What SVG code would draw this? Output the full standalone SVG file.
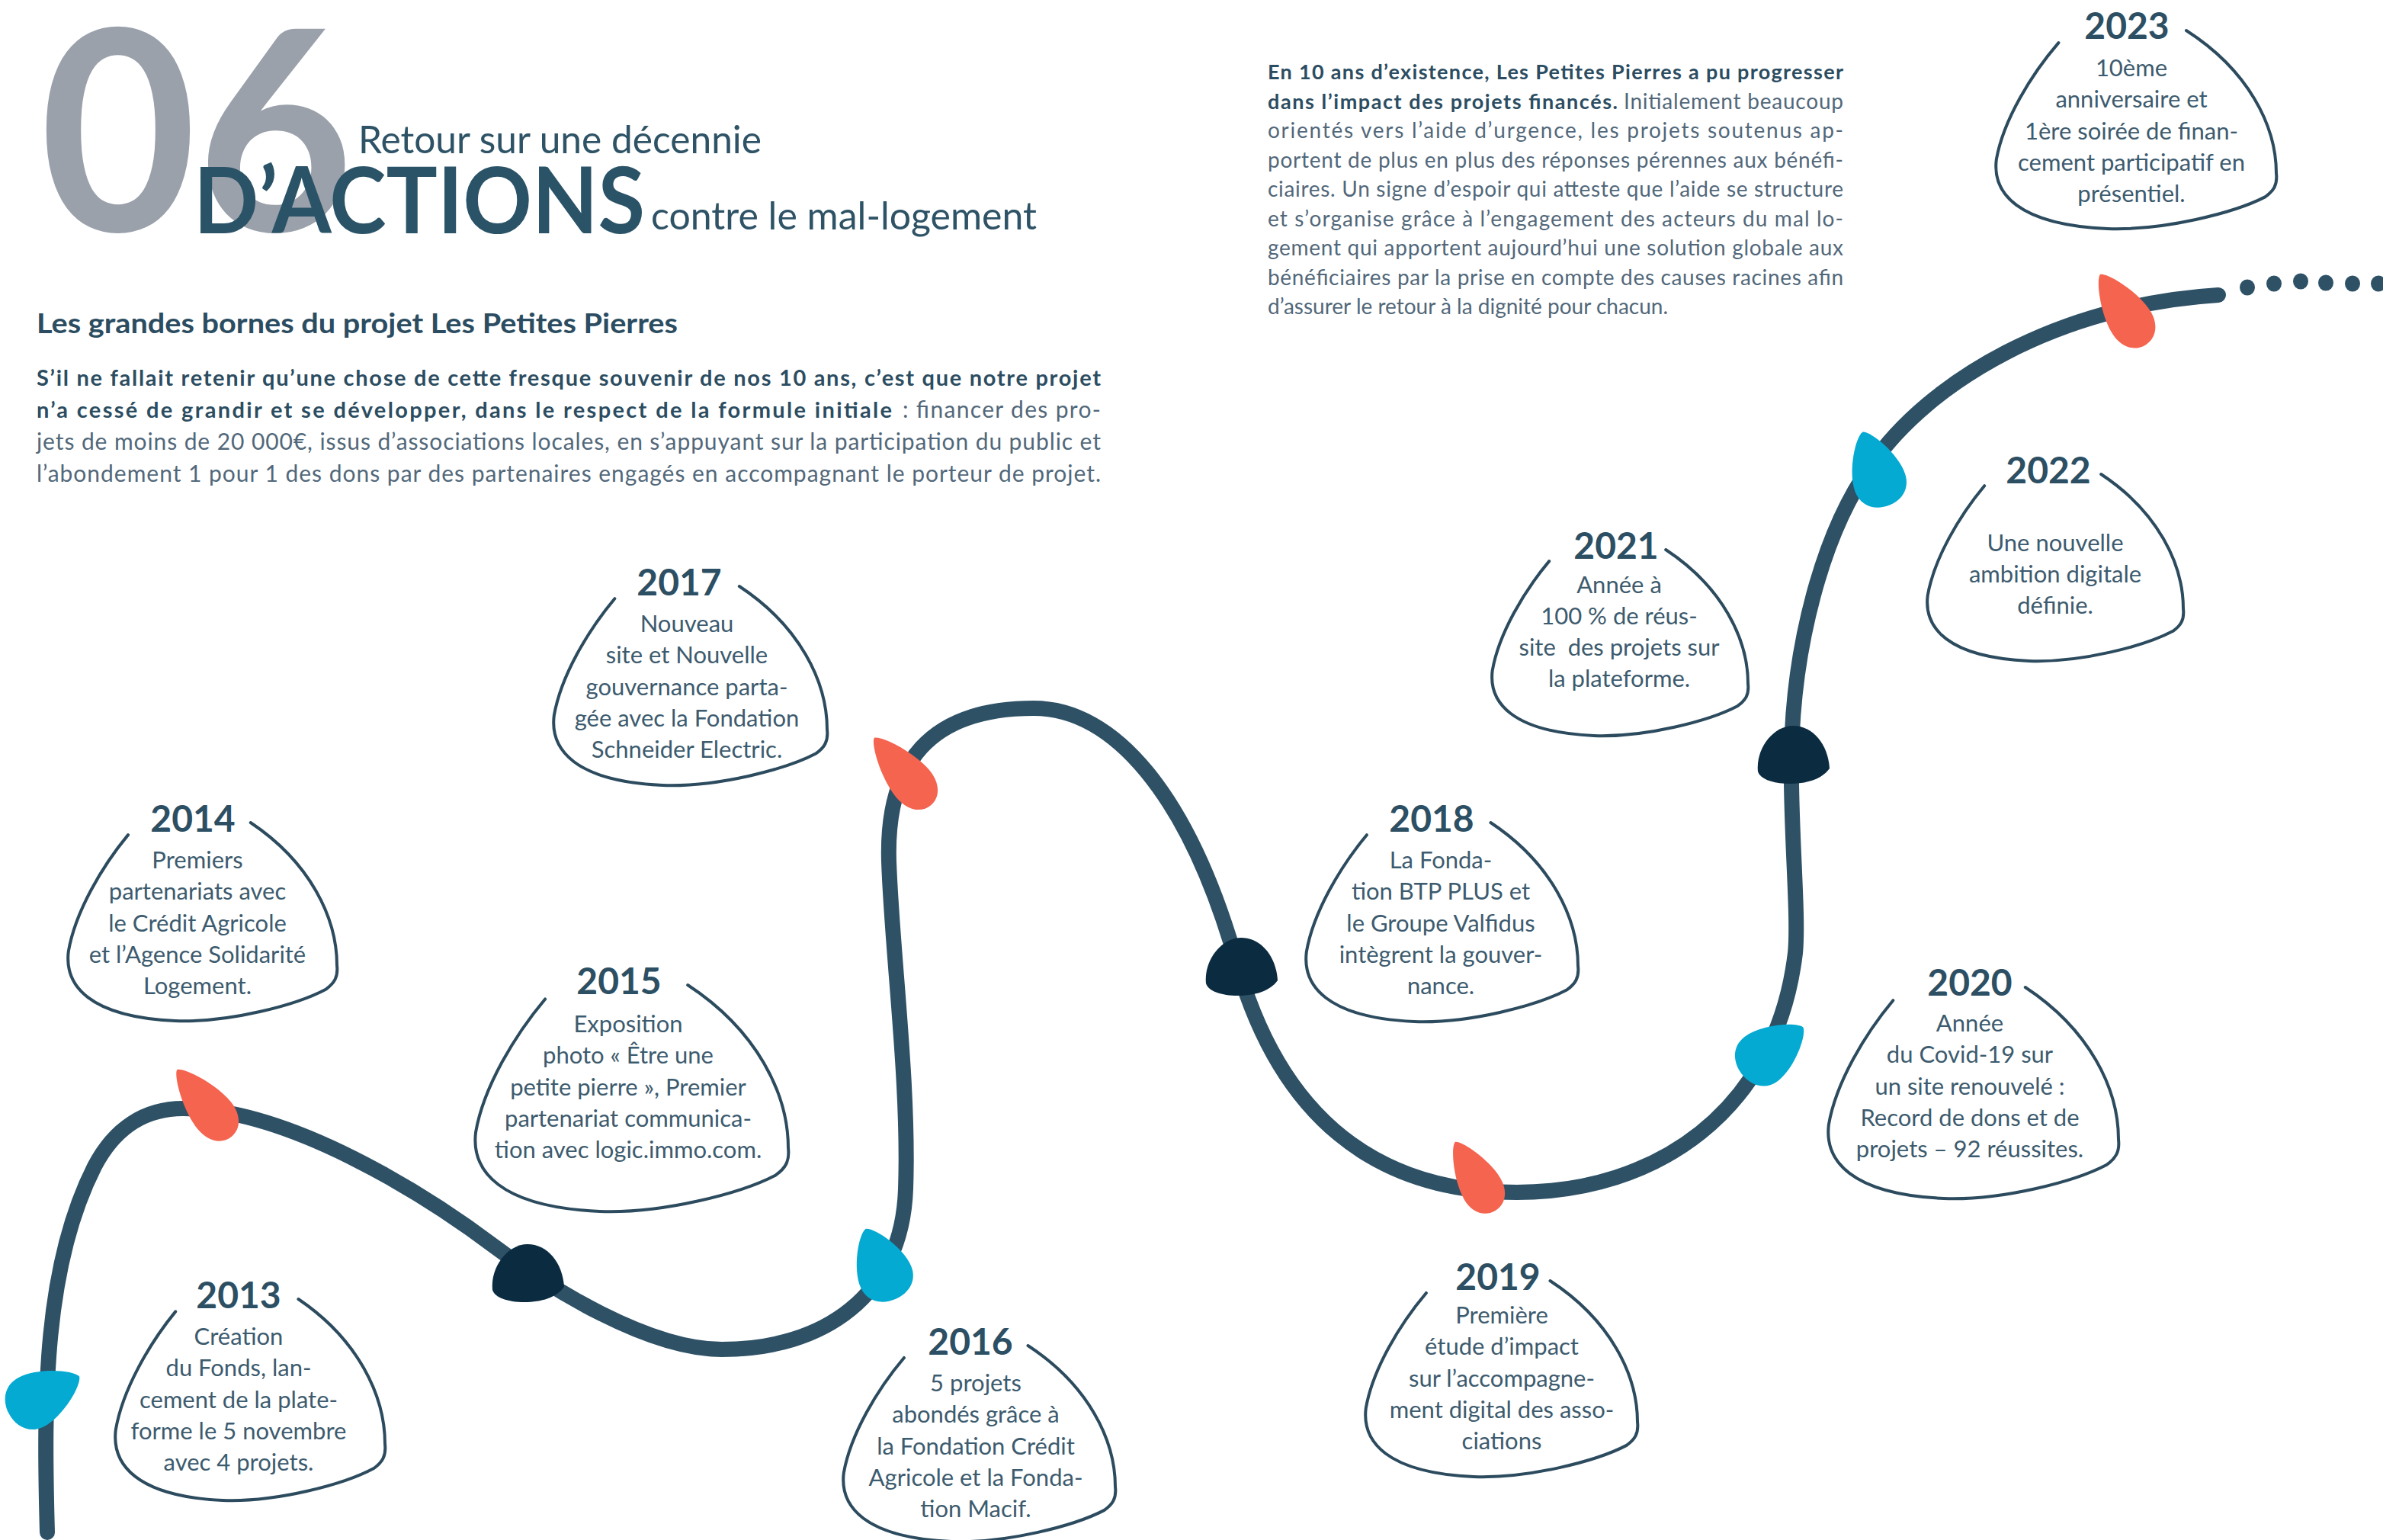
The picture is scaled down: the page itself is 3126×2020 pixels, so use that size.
<svg xmlns="http://www.w3.org/2000/svg" xmlns:xlink="http://www.w3.org/1999/xlink" width="3126" height="2020" viewBox="0 0 3126 2020">
<style>
.yr{font-family:Lato,'Open Sans','Liberation Sans',sans-serif;font-weight:700;font-size:48px;fill:#2c4f63;text-anchor:middle}
.bt{font-family:Lato,'Open Sans','Liberation Sans',sans-serif;font-size:31px;fill:#3d5b6e;text-anchor:middle}
.bub{fill:none;stroke:#2c4b5e;stroke-width:4;stroke-linecap:round;stroke-linejoin:round;vector-effect:non-scaling-stroke}
.road{fill:none;stroke:#2e5166;stroke-width:20;stroke-linecap:round;stroke-linejoin:round}
.red{fill:#f4644f}.blue{fill:#05aad2}.dark{fill:#0b2b40}.dot{fill:#2e5166}
.hb{font-family:Lato,'Open Sans','Liberation Sans',sans-serif;font-weight:700;fill:#2c4d61}
.hr{font-family:Lato,'Open Sans','Liberation Sans',sans-serif;fill:#52687a}
</style>
<defs>
<path id="bub" class="bub" d="M 22.6 6.2 C 13 22, 3 45, 0.5 65 C -1 82, 8 98, 40 100 C 60 101, 85 92, 96 84 C 99 81, 100.5 78, 100 72 C 100 48, 90 20, 68 0"/>
<path id="drop" d="M 0 -55 C 9 -52, 29 -10, 29 20 C 29 42, 16 55, 0 55 C -16 55, -29 42, -29 20 C -29 -10, -9 -52, 0 -55 Z"/>
<path id="dome" d="M -46 22 C -49 -8, -26 -38, 0 -38 C 26 -38, 46 -14, 48 18 C 38 32, 18 38, -4 38 C -26 38, -43 32, -46 22 Z"/>
</defs>
<rect width="3126" height="2020" fill="#ffffff"/>

<g id="title">
<text x="52" y="303" font-family="Lato,'Open Sans',sans-serif" font-weight="700" font-size="367" fill="#9aa1ab" textLength="412" lengthAdjust="spacingAndGlyphs">06</text>
<text x="470" y="201" font-family="Lato,'Open Sans',sans-serif" font-size="50" fill="#2e5366" textLength="529" lengthAdjust="spacingAndGlyphs">Retour sur une décennie</text>
<text x="254" y="306" font-family="Lato,'Open Sans',sans-serif" font-weight="700" font-size="120" fill="#2b5367" textLength="592" lengthAdjust="spacingAndGlyphs">D’ACTIONS</text>
<text x="854" y="301" font-family="Lato,'Open Sans',sans-serif" font-size="50" fill="#2e5366" textLength="506" lengthAdjust="spacingAndGlyphs">contre le mal-logement</text>
</g>

<g id="intro">
<text class="hb" x="48" y="437" font-size="36" textLength="841" lengthAdjust="spacingAndGlyphs">Les grandes bornes du projet Les Petites Pierres</text>
<text class="hb" x="48" y="506" font-size="29" textLength="1396" lengthAdjust="spacing">S’il ne fallait retenir qu’une chose de cette fresque souvenir de nos 10 ans, c’est que notre projet</text>
<text class="hb" x="48" y="548" font-size="29" textLength="1122" lengthAdjust="spacing">n’a cessé de grandir et se développer, dans le respect de la formule initiale</text>
<text class="hr" x="1184" y="548" font-size="30" textLength="260" lengthAdjust="spacing">: financer des pro-</text>
<text class="hr" x="48" y="590" font-size="30" textLength="1396" lengthAdjust="spacing">jets de moins de 20 000€, issus d’associations locales, en s’appuyant sur la participation du public et</text>
<text class="hr" x="48" y="632" font-size="30" textLength="1396" lengthAdjust="spacing">l’abondement 1 pour 1 des dons par des partenaires engagés en accompagnant le porteur de projet.</text>
</g>

<g id="summary">
<text class="hb" x="1663" y="104" font-size="27" textLength="755" lengthAdjust="spacing">En 10 ans d’existence, Les Petites Pierres a pu progresser</text>
<text class="hb" x="1663" y="142.5" font-size="27" textLength="459" lengthAdjust="spacing">dans l’impact des projets financés.</text>
<text class="hr" x="2130" y="142.5" font-size="28" textLength="288" lengthAdjust="spacing">Initialement beaucoup</text>
<text class="hr" x="1663" y="181" font-size="28" textLength="755" lengthAdjust="spacing">orientés vers l’aide d’urgence, les projets soutenus ap-</text>
<text class="hr" x="1663" y="219.5" font-size="28" textLength="755" lengthAdjust="spacing">portent de plus en plus des réponses pérennes aux bénéfi-</text>
<text class="hr" x="1663" y="258" font-size="28" textLength="755" lengthAdjust="spacing">ciaires. Un signe d’espoir qui atteste que l’aide se structure</text>
<text class="hr" x="1663" y="296.5" font-size="28" textLength="755" lengthAdjust="spacing">et s’organise grâce à l’engagement des acteurs du mal lo-</text>
<text class="hr" x="1663" y="335" font-size="28" textLength="755" lengthAdjust="spacing">gement qui apportent aujourd’hui une solution globale aux</text>
<text class="hr" x="1663" y="373.5" font-size="28" textLength="755" lengthAdjust="spacing">bénéficiaires par la prise en compte des causes racines afin</text>
<text class="hr" x="1663" y="412" font-size="28">d’assurer le retour à la dignité pour chacun.</text>
</g>

<g id="timeline">
<path class="road" d="M 62 2010 C 57 1830, 58 1660, 124 1530 C 150 1480, 190 1454, 240 1454 C 380 1454, 560 1568, 650 1636 C 720 1689, 850 1770, 947 1770 C 1080 1770, 1183 1700, 1188 1560 C 1193 1420, 1170 1250, 1166 1130 C 1162 1000, 1220 929, 1356 929 C 1460 929, 1560 1040, 1624 1269 C 1680 1460, 1800 1564, 1990 1564 C 2170 1564, 2330 1460, 2355 1250 C 2360 1200, 2348 1080, 2350 990 C 2352 850, 2390 700, 2454 611 C 2530 500, 2700 400, 2910 387"/>
<ellipse class="dot" cx="2948" cy="377" rx="10" ry="10.5"/>
<ellipse class="dot" cx="2983" cy="372" rx="10" ry="10.5"/>
<ellipse class="dot" cx="3018" cy="369" rx="10" ry="10.5"/>
<ellipse class="dot" cx="3051" cy="371" rx="10" ry="10.5"/>
<ellipse class="dot" cx="3086" cy="372" rx="10" ry="10.5"/>
<ellipse class="dot" cx="3120" cy="372" rx="10" ry="10.5"/>
<use href="#drop" class="blue" transform="translate(58,1830) rotate(62) scale(1.25,0.95)"/>
<use href="#drop" class="red" transform="translate(268,1447) rotate(-39) scale(0.97,1.03)"/>
<use href="#dome" class="dark" transform="translate(692,1670)"/>
<use href="#drop" class="blue" transform="translate(1155,1658) rotate(-23) scale(1.24,0.91)"/>
<use href="#drop" class="red" transform="translate(1184,1012) rotate(-40) scale(0.97,1.05)"/>
<use href="#dome" class="dark" transform="translate(1628,1268)"/>
<use href="#drop" class="red" transform="translate(1935,1543) rotate(-30) scale(0.95,0.95)"/>
<use href="#drop" class="blue" transform="translate(2325,1378) rotate(53) scale(1.25,0.92)"/>
<use href="#dome" class="dark" transform="translate(2352,990)"/>
<use href="#drop" class="blue" transform="translate(2460,615) rotate(-19) scale(1.2,0.93)"/>
<use href="#drop" class="red" transform="translate(2785,406) rotate(-33)"/>
</g>

<g id="y2013">
<use href="#bub" transform="translate(150,1704) scale(3.55,2.64)"/>
<text class="yr" x="313" y="1716">2013</text>
<text class="bt"><tspan x="313" y="1764">Création</tspan><tspan x="313" y="1805">du Fonds, lan-</tspan><tspan x="313" y="1846.5">cement de la plate-</tspan><tspan x="313" y="1888">forme le 5 novembre</tspan><tspan x="313" y="1929">avec 4 projets.</tspan></text>
</g>

<g id="y2014">
<use href="#bub" transform="translate(88,1079) scale(3.54,2.60)"/>
<text class="yr" x="253" y="1091">2014</text>
<text class="bt"><tspan x="259" y="1139">Premiers</tspan><tspan x="259" y="1180">partenariats avec</tspan><tspan x="259" y="1221.5">le Crédit Agricole</tspan><tspan x="259" y="1263">et l’Agence Solidarité</tspan><tspan x="259" y="1304">Logement.</tspan></text>
</g>

<g id="y2015">
<use href="#bub" transform="translate(622,1292) scale(4.12,2.97)"/>
<text class="yr" x="812" y="1304">2015</text>
<text class="bt"><tspan x="824" y="1354">Exposition</tspan><tspan x="824" y="1395">photo « Être une</tspan><tspan x="824" y="1436.5">petite pierre », Premier</tspan><tspan x="824" y="1478">partenariat communica-</tspan><tspan x="824" y="1519">tion avec logic.immo.com.</tspan></text>
</g>

<g id="y2016">
<use href="#bub" transform="translate(1105,1765) scale(3.58,2.57)"/>
<text class="yr" x="1273" y="1777">2016</text>
<text class="bt"><tspan x="1280" y="1825">5 projets</tspan><tspan x="1280" y="1866">abondés grâce à</tspan><tspan x="1280" y="1907.5">la Fondation Crédit</tspan><tspan x="1280" y="1949">Agricole et la Fonda-</tspan><tspan x="1280" y="1990">tion Macif.</tspan></text>
</g>

<g id="y2017">
<use href="#bub" transform="translate(725,769) scale(3.60,2.61)"/>
<text class="yr" x="891" y="781">2017</text>
<text class="bt"><tspan x="901" y="829">Nouveau</tspan><tspan x="901" y="870">site et Nouvelle</tspan><tspan x="901" y="911.5">gouvernance parta-</tspan><tspan x="901" y="953">gée avec la Fondation</tspan><tspan x="901" y="994">Schneider Electric.</tspan></text>
</g>

<g id="y2018">
<use href="#bub" transform="translate(1712,1079) scale(3.58,2.61)"/>
<text class="yr" x="1878" y="1091">2018</text>
<text class="bt"><tspan x="1890" y="1139">La Fonda-</tspan><tspan x="1890" y="1180">tion BTP PLUS et</tspan><tspan x="1890" y="1221.5">le Groupe Valfidus</tspan><tspan x="1890" y="1263">intègrent la gouver-</tspan><tspan x="1890" y="1304">nance.</tspan></text>
</g>

<g id="y2019">
<use href="#bub" transform="translate(1790,1680) scale(3.58,2.57)"/>
<text class="yr" x="1965" y="1692">2019</text>
<text class="bt"><tspan x="1970" y="1736">Première</tspan><tspan x="1970" y="1777">étude d’impact</tspan><tspan x="1970" y="1818.5">sur l’accompagne-</tspan><tspan x="1970" y="1860">ment digital des asso-</tspan><tspan x="1970" y="1901">ciations</tspan></text>
</g>

<g id="y2020">
<use href="#bub" transform="translate(2397,1295) scale(3.82,2.77)"/>
<text class="yr" x="2584" y="1306">2020</text>
<text class="bt"><tspan x="2584" y="1353">Année</tspan><tspan x="2584" y="1394">du Covid-19 sur</tspan><tspan x="2584" y="1435.5">un site renouvelé :</tspan><tspan x="2584" y="1477">Record de dons et de</tspan><tspan x="2584" y="1518">projets – 92 réussites.</tspan></text>
</g>

<g id="y2021">
<use href="#bub" transform="translate(1956,721) scale(3.37,2.44)"/>
<text class="yr" x="2120" y="733">2021</text>
<text class="bt"><tspan x="2124" y="778">Année à</tspan><tspan x="2124" y="819">100 % de réus-</tspan><tspan x="2124" y="860">site&#160; des projets sur</tspan><tspan x="2124" y="901">la plateforme.</tspan></text>
</g>

<g id="y2022">
<use href="#bub" transform="translate(2527,622) scale(3.37,2.45)"/>
<text class="yr" x="2687" y="634">2022</text>
<text class="bt"><tspan x="2696" y="723">Une nouvelle</tspan><tspan x="2696" y="764">ambition digitale</tspan><tspan x="2696" y="805">définie.</tspan></text>
</g>

<g id="y2023">
<use href="#bub" transform="translate(2617,40) scale(3.69,2.60)"/>
<text class="yr" x="2790" y="51">2023</text>
<text class="bt"><tspan x="2796" y="100">10ème</tspan><tspan x="2796" y="141">anniversaire et</tspan><tspan x="2796" y="182.5">1ère soirée de finan-</tspan><tspan x="2796" y="224">cement participatif en</tspan><tspan x="2796" y="265">présentiel.</tspan></text>
</g>
</svg>
